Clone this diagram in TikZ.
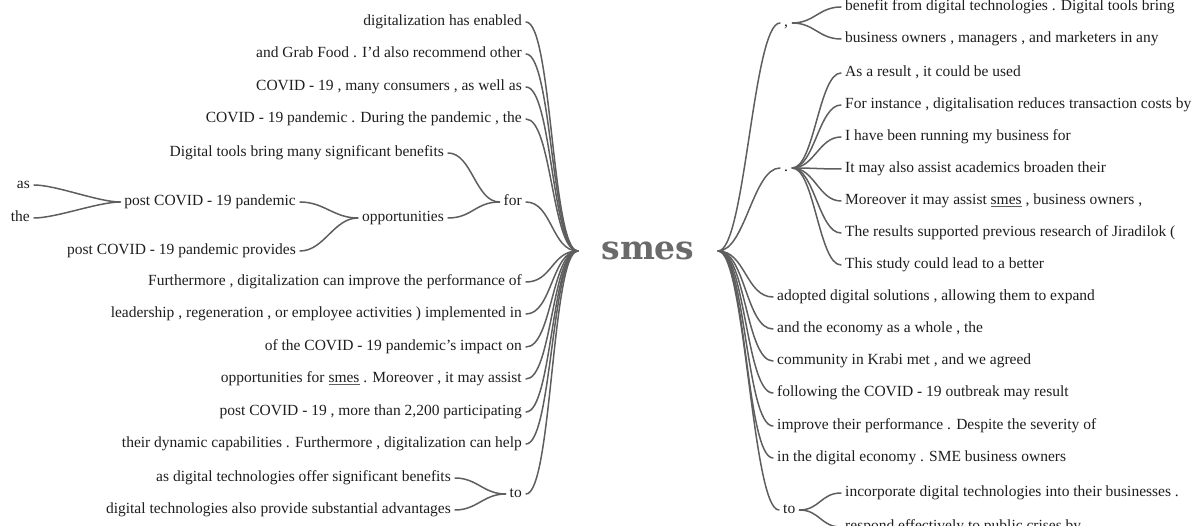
\documentclass[tikz,border=0pt]{standalone}
\usepackage{fontspec}
\setmainfont{Liberation Serif}
\newfontfamily\rootfont{DejaVu Serif}
\definecolor{txt}{HTML}{1E1E1E}
\definecolor{ln}{HTML}{5E5E5E}
\definecolor{rootc}{HTML}{6A6A6A}
\newcommand{\ul}[1]{{\color{ln}\underline{\color{txt}#1}}}
\begin{document}
\begin{tikzpicture}[x=1pt,y=-1pt,
  word/.style={font=\fontsize{15.5}{18}\selectfont, text=txt, inner xsep=4pt, inner ysep=0pt, text height=11pt, text depth=3.5pt},
  lw/.style={word, anchor=east},
  rw/.style={word, anchor=west},
  link/.style={draw=ln, line width=1.5pt, line cap=round},
  bez/.style={to path={.. controls +(#1,0) and +(-#1,0) .. (\tikztotarget)}},
]
\useasboundingbox (0,0) rectangle (1203,526);
\clip (0,0) rectangle (1203,526);

% root
\node[font=\rootfont\bfseries\fontsize{33}{36}\selectfont, text=rootc, minimum width=140pt, inner sep=0pt] (root) at (648,251) {smes};

% ---------- left side ----------
\node[lw] (l1) at (526,22) {digitalization has enabled};
\node[lw] (l2) at (526,54) {and Grab Food . I’d also recommend other};
\node[lw] (l3) at (526,87) {COVID - 19 , many consumers , as well as};
\node[lw] (l4) at (526,119) {COVID - 19 pandemic . During the pandemic , the};
\node[lw] (lfor) at (526,202) {for};
\node[lw] (l5) at (526,282) {Furthermore , digitalization can improve the performance of};
\node[lw] (l6) at (526,314) {leadership , regeneration , or employee activities ) implemented in};
\node[lw] (l7) at (526,347) {of the COVID - 19 pandemic's impact on};
\node[lw] (l8) at (526,379) {opportunities for \ul{smes} . Moreover , it may assist};
\node[lw] (l9) at (526,412) {post COVID - 19 , more than 2,200 participating};
\node[lw] (l10) at (526,444) {their dynamic capabilities . Furthermore , digitalization can help};
\node[lw] (lto) at (526,494) {to};

\node[lw] (f1) at (448,153) {Digital tools bring many significant benefits};
\node[lw] (opp) at (448,218) {opportunities};
\node[lw] (o1) at (300,202) {post COVID - 19 pandemic};
\node[lw] (o2) at (300,251) {post COVID - 19 pandemic provides};
\node[lw] (p1) at (34,185) {as};
\node[lw] (p2) at (34,218) {the};

\node[lw] (t1) at (455,478) {as digital technologies offer significant benefits};
\node[lw] (t2) at (455,510) {digital technologies also provide substantial advantages};

\foreach \n in {l1,l2,l3,l4,lfor,l5,l6,l7,l8,l9,l10,lto}
  \draw[link] (\n.east) to[bez=26] (root.west);
\foreach \n in {f1,opp}
  \draw[link] (\n.east) to[bez=24] (lfor.west);
\foreach \n in {o1,o2}
  \draw[link] (\n.east) to[bez=24] (opp.west);
\foreach \n in {p1,p2}
  \draw[link] (\n.east) to[bez=22] (o1.west);
\foreach \n in {t1,t2}
  \draw[link] (\n.east) to[bez=22] (lto.west);

% ---------- right side ----------
\node[rw] (rc) at (780,23) {,};
\node[rw] (rd) at (780,168) {.};
\node[rw] (r1) at (773,297) {adopted digital solutions , allowing them to expand};
\node[rw] (r2) at (773,329) {and the economy as a whole , the};
\node[rw] (r3) at (773,361) {community in Krabi met , and we agreed};
\node[rw] (r4) at (773,393) {following the COVID - 19 outbreak may result};
\node[rw] (r5) at (773,426) {improve their performance . Despite the severity of};
\node[rw] (r6) at (773,458) {in the digital economy . SME business owners};
\node[rw] (rto) at (779,510) {to};

\node[rw] (c1) at (841,7) {benefit from digital technologies . Digital tools bring};
\node[rw] (c2) at (841,39) {business owners , managers , and marketers in any};

\node[rw] (d1) at (841,73) {As a result , it could be used};
\node[rw] (d2) at (841,105) {For instance , digitalisation reduces transaction costs by};
\node[rw] (d3) at (841,137) {I have been running my business for};
\node[rw] (d4) at (841,169) {It may also assist academics broaden their};
\node[rw] (d5) at (841,201) {Moreover it may assist \ul{smes} , business owners ,};
\node[rw] (d6) at (841,233) {The results supported previous research of Jiradilok (};
\node[rw] (d7) at (841,265) {This study could lead to a better};

\node[rw] (s1) at (841,493) {incorporate digital technologies into their businesses .};
\node[rw] (s2) at (841,527) {respond effectively to public crises by};

\foreach \n in {rc,rd,r1,r2,r3,r4,r5,r6,rto}
  \draw[link] (root.east) to[bez=27] (\n.west);
\foreach \n in {c1,c2}
  \draw[link] (rc.east) to[bez=22] (\n.west);
\foreach \n in {d1,d2,d3,d4,d5,d6,d7}
  \draw[link] (rd.east) to[bez=22] (\n.west);
\foreach \n in {s1,s2}
  \draw[link] (rto.east) to[bez=20] (\n.west);
\end{tikzpicture}
\end{document}
